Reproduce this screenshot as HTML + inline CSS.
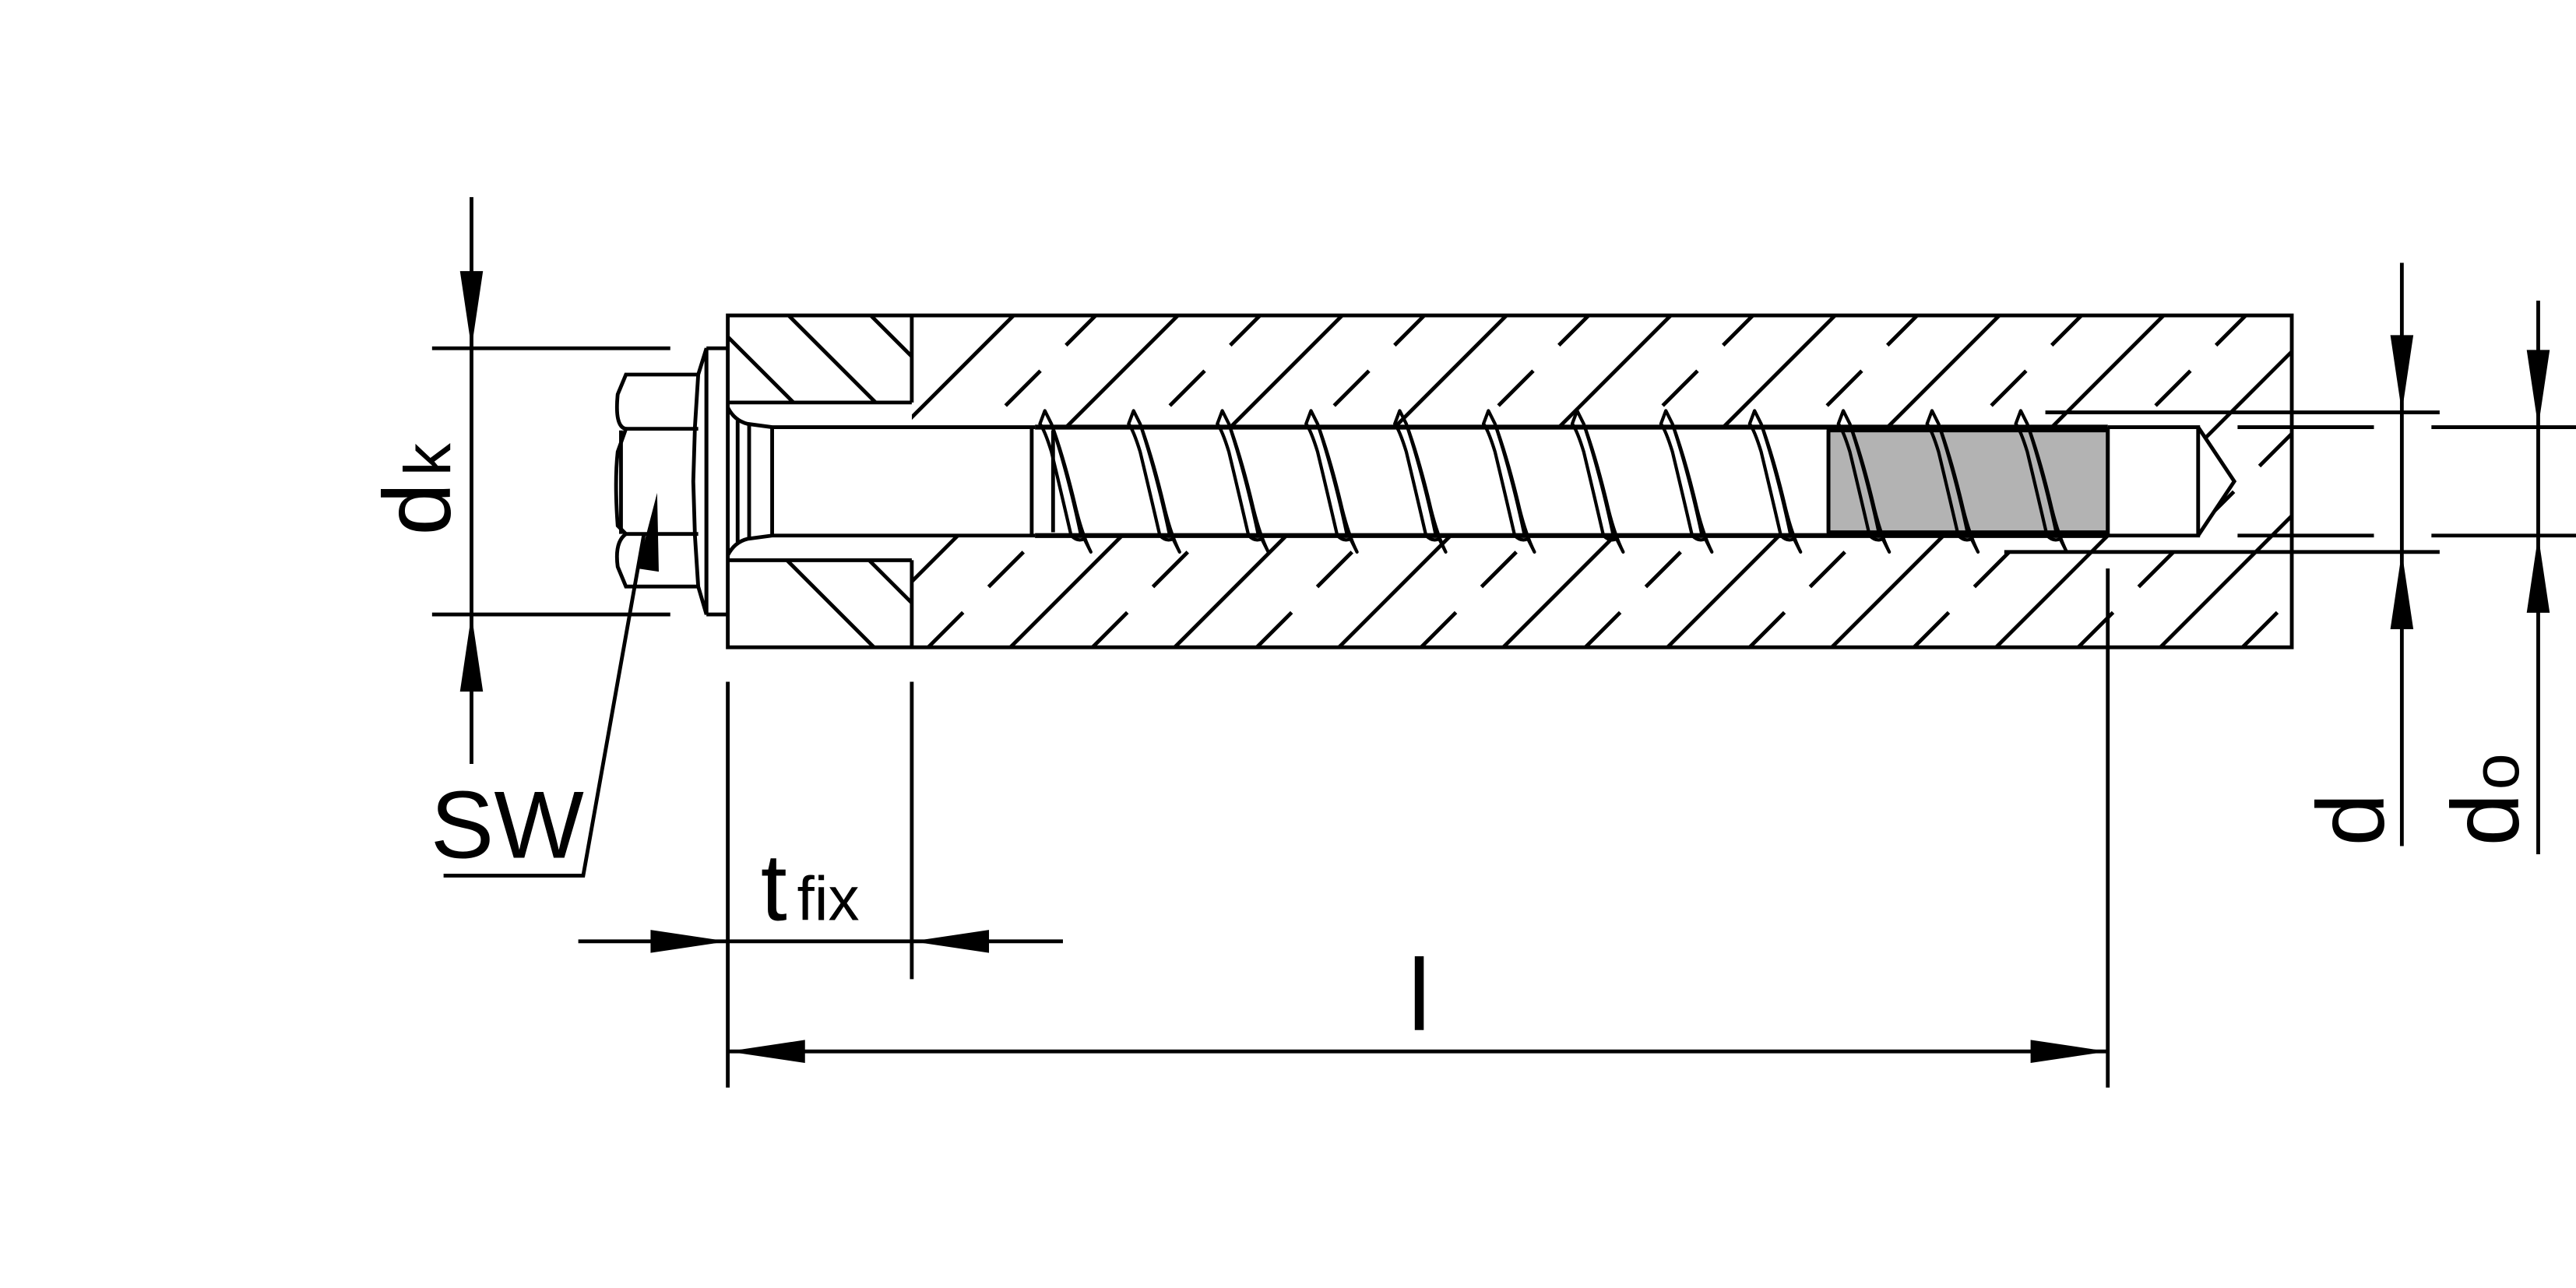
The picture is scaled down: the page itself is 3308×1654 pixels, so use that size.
<!DOCTYPE html>
<html><head><meta charset="utf-8"><style>html,body{margin:0;padding:0;background:#fff}svg{display:block}</style></head>
<body>
<svg width="3308" height="1654" viewBox="0 0 1568 784" xmlns="http://www.w3.org/2000/svg" font-family="Liberation Sans, sans-serif">
<defs>
<clipPath id="conc"><path d="M555 192H1395V394H555Z M555 260V326H1338L1360 293L1338 260Z" clip-rule="evenodd"/></clipPath>
<clipPath id="plate"><path d="M443 192H555V245H443Z M443 341H555V394H443Z"/></clipPath>
</defs>
<rect width="1568" height="784" fill="#fff"/>
<g stroke="#000" stroke-width="2.3" fill="none">
<g clip-path="url(#conc)">
<g id="h">
<line x1="415" y1="394" x2="617" y2="192"/>
<line x1="465" y1="394" x2="667" y2="192" stroke-dasharray="30 22"/>
</g>
<use href="#h" x="100"/><use href="#h" x="200"/><use href="#h" x="300"/><use href="#h" x="400"/><use href="#h" x="500"/><use href="#h" x="600"/><use href="#h" x="700"/><use href="#h" x="800"/><use href="#h" x="900"/><use href="#h" x="1000"/><use href="#h" x="1100"/>
</g>
<g clip-path="url(#plate)">
<line x1="430" y1="192" x2="632" y2="394"/><line x1="480" y1="192" x2="682" y2="394"/><line x1="530" y1="192" x2="732" y2="394"/>
<line x1="380" y1="192" x2="582" y2="394"/><line x1="330" y1="192" x2="532" y2="394"/>
</g>
<rect x="443" y="192" width="952" height="202"/>
<line x1="555" y1="192" x2="555" y2="245"/><line x1="555" y1="341" x2="555" y2="394"/>
<line x1="443" y1="245" x2="555" y2="245"/><line x1="443" y1="341" x2="555" y2="341"/>
<path d="M430 212H443M430 374H443M430 212L425 228 423 260 422 293 423 326 425 357 430 374Z" fill="#fff"/>
<line x1="430" y1="212" x2="430" y2="374"/>
<path d="M425 228H381L376 240Q374 260 381 261L376 275Q374 293 376 320L381 325Q374 330 376 345L381 357H425"/>
<line x1="381" y1="261" x2="425" y2="261"/><line x1="381" y1="325" x2="425" y2="325"/>
<line x1="378" y1="262" x2="378" y2="325"/>
<path d="M443 248Q447 256 455 258L470 260H630M443 338Q447 330 455 328L470 326H630" />
<line x1="449" y1="256" x2="449" y2="330"/><line x1="456" y1="258" x2="456" y2="328"/>
<line x1="470" y1="260" x2="470" y2="326"/>
<line x1="628" y1="260" x2="628" y2="326"/><line x1="641" y1="262" x2="641" y2="324"/>
<rect x="1113" y="262" width="170" height="62" fill="#b3b3b3"/>
<path d="M630 260H1283M630 326H1283" stroke-width="3"/>
<line x1="1283" y1="260" x2="1283" y2="326"/>
<path d="M1283 260H1338V326H1283M1338 260L1360 293L1338 326"/>
<line x1="1113" y1="262" x2="1113" y2="324"/>
</g>
<g stroke="#000" stroke-width="2" fill="none" stroke-linejoin="round">
<path id="t" d="M633 258L636 250L640 258Q648 280 655 310Q659 326 664 336L660 328Q656 330 652 326Q646 300 640 275Q636 262 633 258ZM640 258Q650 288 658 326"/>
<use href="#t" x="54"/><use href="#t" x="108"/><use href="#t" x="162"/><use href="#t" x="216"/><use href="#t" x="270"/><use href="#t" x="324"/><use href="#t" x="378"/><use href="#t" x="432"/><use href="#t" x="486"/><use href="#t" x="540"/><use href="#t" x="594"/>
</g>
<g stroke="#000" stroke-width="2.3" fill="none">
<line x1="287" y1="120" x2="287" y2="465"/>
<line x1="263" y1="212" x2="408" y2="212"/><line x1="263" y1="374" x2="408" y2="374"/>
<path d="M270 533H355L392 325"/>
<line x1="443" y1="415" x2="443" y2="662"/><line x1="555" y1="415" x2="555" y2="596"/>
<line x1="352" y1="573" x2="647" y2="573"/>
<line x1="443" y1="640" x2="1283" y2="640"/>
<line x1="1283" y1="346" x2="1283" y2="662"/>
<line x1="1462" y1="160" x2="1462" y2="515"/>
<line x1="1245" y1="251" x2="1485" y2="251"/><line x1="1220" y1="336" x2="1485" y2="336"/>
<line x1="1545" y1="183" x2="1545" y2="520"/>
<line x1="1362" y1="260" x2="1445" y2="260"/><line x1="1480" y1="260" x2="1568" y2="260"/>
<line x1="1362" y1="326" x2="1445" y2="326"/><line x1="1480" y1="326" x2="1568" y2="326"/>
</g>
<g fill="#000">
<path d="M287 212L280 165H294Z"/><path d="M287 374L280 421H294Z"/>
<path d="M400 300L388 346 401 348Z"/>
<path d="M443 573L396 566V580Z"/><path d="M555 573L602 566V580Z"/>
<path d="M443 640L490 633V647Z"/><path d="M1283 640L1236 633V647Z"/>
<path d="M1462 251L1455 204H1469Z"/><path d="M1462 336L1455 383H1469Z"/>
<path d="M1545 260L1538 213H1552Z"/><path d="M1545 326L1538 373H1552Z"/>
</g>
<g fill="#000">
<text transform="translate(274 326) rotate(-90)" font-size="58">d<tspan font-size="40" dx="4">k</tspan></text>
<text x="262" y="522" font-size="58">SW</text>
<text x="463" y="560" font-size="58">t<tspan font-size="38" dx="6">fix</tspan></text>
<text x="857" y="627" font-size="62">l</text>
<text transform="translate(1451 515) rotate(-90)" font-size="58">d</text>
<text transform="translate(1533 515) rotate(-90)" font-size="58">d<tspan font-size="40" dx="2">o</tspan></text>
</g>
</svg>
</body></html>
